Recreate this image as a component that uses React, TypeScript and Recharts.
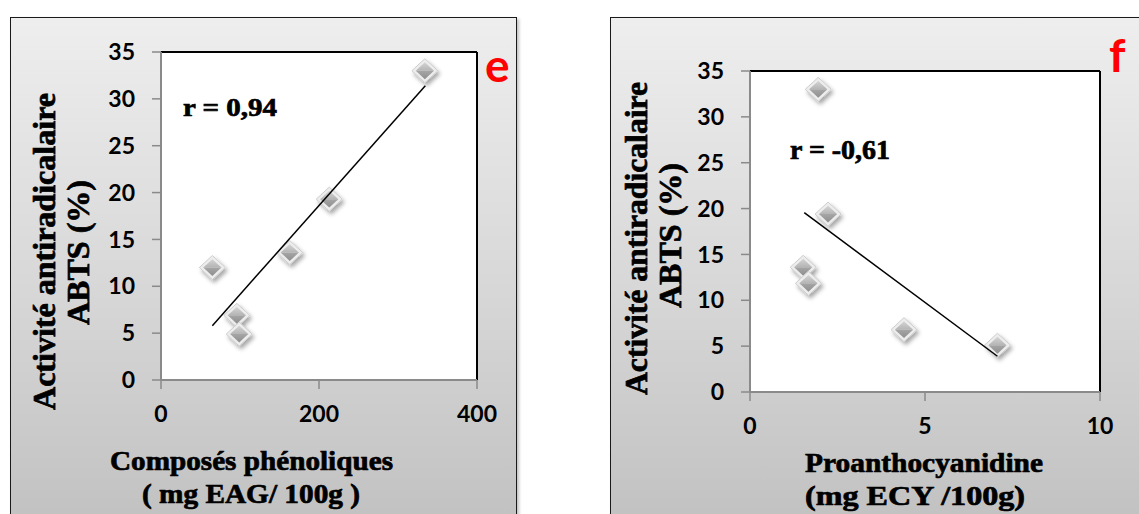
import React from 'react';
import {
  ScatterChart,
  Scatter,
  XAxis,
  YAxis,
  CartesianGrid,
  ReferenceLine,
} from 'recharts';

// ── Données ────────────────────────────────────────────

// panneau e : composés phénoliques vs ABTS
const phenolX = [65, 96, 99, 163, 213, 334];
const abtsE = [12.0, 6.9, 4.9, 13.6, 19.3, 33.0];
const trendEX = [65, 334.6];
const trendEY = [5.8, 31.4];

// panneau f : proanthocyanidine vs ABTS
const proanthoX = [1.52, 1.67, 1.95, 2.23, 4.4, 7.07];
const abtsF = [13.6, 11.85, 33.0, 19.4, 6.8, 5.1];
const trendFX = [1.55, 7.07];
const trendFY = [19.55, 3.9];

const yTicks = [0, 5, 10, 15, 20, 25, 30, 35];
const xTicksE = [0, 200, 400];
const xTicksF = [0, 5, 10];

const toPoints = (xs: number[], ys: number[]) => xs.map((x, i) => ({ x, y: ys[i] }));

const dataE = toPoints(phenolX, abtsE);
const dataF = toPoints(proanthoX, abtsF);
const lineE = toPoints(trendEX, trendEY);
const lineF = toPoints(trendFX, trendFY);

// ── Styles ─────────────────────────────────────────────

const SERIF = '"Liberation Serif", "Times New Roman", serif';
const SANS = 'Lato, "Open Sans", sans-serif';
const AXIS_GRAY = '#8a8a8a';

const tickStyle = { fill: '#000', fontSize: 23, fontFamily: SANS, fontWeight: 700 };

// ── Marqueur losange "3D" ──────────────────────────────

// eslint-disable-next-line @typescript-eslint/no-explicit-any
const Diamond = (props: any) => {
  const { cx, cy } = props;
  if (cx == null || cy == null) return <g />;
  const w = 13, h = 12, k = 0.7;
  return (
    <g filter="url(#dshadow)">
      <path d={`M${cx},${cy - h} L${cx + w},${cy} L${cx},${cy + h} L${cx - w},${cy} Z`}
        fill="#ededed" stroke="#cdcdcd" strokeWidth={1} />
      <path d={`M${cx},${cy - h * k} L${cx + w * k},${cy} L${cx - w * k},${cy} Z`} fill="url(#dtop)" />
      <path d={`M${cx - w * k},${cy} L${cx + w * k},${cy} L${cx},${cy + h * k} Z`} fill="url(#dbot)" />
    </g>
  );
};

const NoShape = () => <g />;

// ── Panneau ────────────────────────────────────────────

interface PanelProps {
  left: number;
  width: number;
  margin: { top: number; right: number; bottom: number; left: number };
  xDomain: [number, number];
  xTicks: number[];
  points: { x: number; y: number }[];
  trend: { x: number; y: number }[];
}

const Panel: React.FC<PanelProps> = ({ left, width, margin, xDomain, xTicks, points, trend }) => (
  <div style={{ position: 'absolute', left, top: 0 }}>
    <ScatterChart width={width} height={514} margin={margin}>
      <CartesianGrid fill="#fff" stroke="none" horizontal={false} vertical={false} />
      <XAxis
        type="number"
        dataKey="x"
        domain={xDomain}
        ticks={xTicks}
        interval={0}
        height={60}
        tick={tickStyle}
        tickSize={9}
        tickMargin={17}
        axisLine={{ stroke: AXIS_GRAY, strokeWidth: 2 }}
        tickLine={{ stroke: AXIS_GRAY, strokeWidth: 1.5 }}
      />
      <YAxis
        type="number"
        dataKey="y"
        domain={[0, 35]}
        ticks={yTicks}
        interval={0}
        width={60}
        tick={tickStyle}
        tickSize={9}
        tickMargin={17}
        axisLine={{ stroke: AXIS_GRAY, strokeWidth: 2 }}
        tickLine={{ stroke: AXIS_GRAY, strokeWidth: 1.5 }}
      />
      {/* bord haut / droit du cadre */}
      <ReferenceLine y={35} stroke="#000" strokeWidth={2} />
      <ReferenceLine x={xDomain[1]} stroke="#000" strokeWidth={2} />
      <Scatter data={points} shape={<Diamond />} isAnimationActive={false} />
      <Scatter
        data={trend}
        line={{ stroke: '#000', strokeWidth: 1.5 }}
        shape={<NoShape />}
        isAnimationActive={false}
      />
    </ScatterChart>
  </div>
);

const panelBox = (left: number, width: number): React.CSSProperties => ({
  position: 'absolute',
  left,
  top: 17,
  width,
  height: 520,
  boxSizing: 'border-box',
  border: '1.5px solid #1a1a1a',
  background: 'linear-gradient(to bottom, #eeeeee 0%, #d6d6d6 55%, #c0c0c0 100%)',
  boxShadow: '2px 2px 3px rgba(0,0,0,0.25)',
});

// ── App ────────────────────────────────────────────────

const App: React.FC = () => {
  // serif gras "épaissi" comme dans la figure d'origine
  const serifBold = {
    fontFamily: SERIF, fontWeight: 700, fill: '#000',
    stroke: '#000', strokeWidth: 0.7, lengthAdjust: 'spacingAndGlyphs',
  };
  return (
    <div style={{
      position: 'absolute', left: 0, top: 0, width: 1139, height: 514,
      overflow: 'hidden', background: '#fff',
    }}>
      <div style={panelBox(10, 507)} />
      <div style={panelBox(610, 600)} />

      <Panel
        left={0}
        width={540}
        margin={{ top: 52, right: 63, bottom: 74, left: 101 }}
        xDomain={[0, 400]}
        xTicks={xTicksE}
        points={dataE}
        trend={lineE}
      />
      <Panel
        left={600}
        width={539}
        margin={{ top: 71, right: 39, bottom: 62, left: 90 }}
        xDomain={[0, 10]}
        xTicks={xTicksF}
        points={dataF}
        trend={lineF}
      />

      {/* textes + defs partagées */}
      <svg width={1139} height={514}
        style={{ position: 'absolute', left: 0, top: 0, pointerEvents: 'none' }}>
        <defs>
          <linearGradient id="dtop" x1="0" y1="0" x2="0" y2="1">
            <stop offset="0%" stopColor="#d4d4d4" />
            <stop offset="100%" stopColor="#b4b4b4" />
          </linearGradient>
          <linearGradient id="dbot" x1="0" y1="0" x2="0" y2="1">
            <stop offset="0%" stopColor="#a6a6a6" />
            <stop offset="100%" stopColor="#8e8e8e" />
          </linearGradient>
          <filter id="dshadow" x="-50%" y="-50%" width="200%" height="200%">
            <feDropShadow dx="2" dy="3" stdDeviation="2" floodColor="#000" floodOpacity="0.35" />
          </filter>
        </defs>

        {/* panneau e */}
        <text {...serifBold} fontSize={31} textAnchor="middle" textLength={317}
          transform="translate(55,251.5) rotate(-90)">Activité antiradicalaire</text>
        <text {...serifBold} fontSize={31} textAnchor="middle" textLength={145}
          transform="translate(89,252.5) rotate(-90)">ABTS (%)</text>
        <text {...serifBold} fontSize={28} x={251.5} y={470} textAnchor="middle"
          textLength={283}>Composés phénoliques</text>
        <text {...serifBold} fontSize={28} x={251} y={503} textAnchor="middle"
          textLength={218}>( mg EAG/ 100g )</text>
        <text {...serifBold} fontSize={26} x={183} y={116} textLength={94}>r = 0,94</text>
        <text x={485} y={82} fontFamily={SANS} fontWeight={700} fontSize={46} fill="#ff0000">e</text>

        {/* panneau f */}
        <text {...serifBold} fontSize={31} textAnchor="middle" textLength={313}
          transform="translate(647,238.5) rotate(-90)">Activité antiradicalaire</text>
        <text {...serifBold} fontSize={31} textAnchor="middle" textLength={145}
          transform="translate(681,235.5) rotate(-90)">ABTS (%)</text>
        <text {...serifBold} fontSize={28} x={924} y={472} textAnchor="middle"
          textLength={238}>Proanthocyanidine</text>
        <text {...serifBold} fontSize={28} x={915} y={505} textAnchor="middle"
          textLength={220}>(mg ECY /100g)</text>
        <text {...serifBold} fontSize={27} x={790} y={159} textLength={100}>r = -0,61</text>
        <text x={1109} y={72} fontFamily={SANS} fontWeight={700} fontSize={46} fill="#ff0000">f</text>
      </svg>
    </div>
  );
};

export default App;
